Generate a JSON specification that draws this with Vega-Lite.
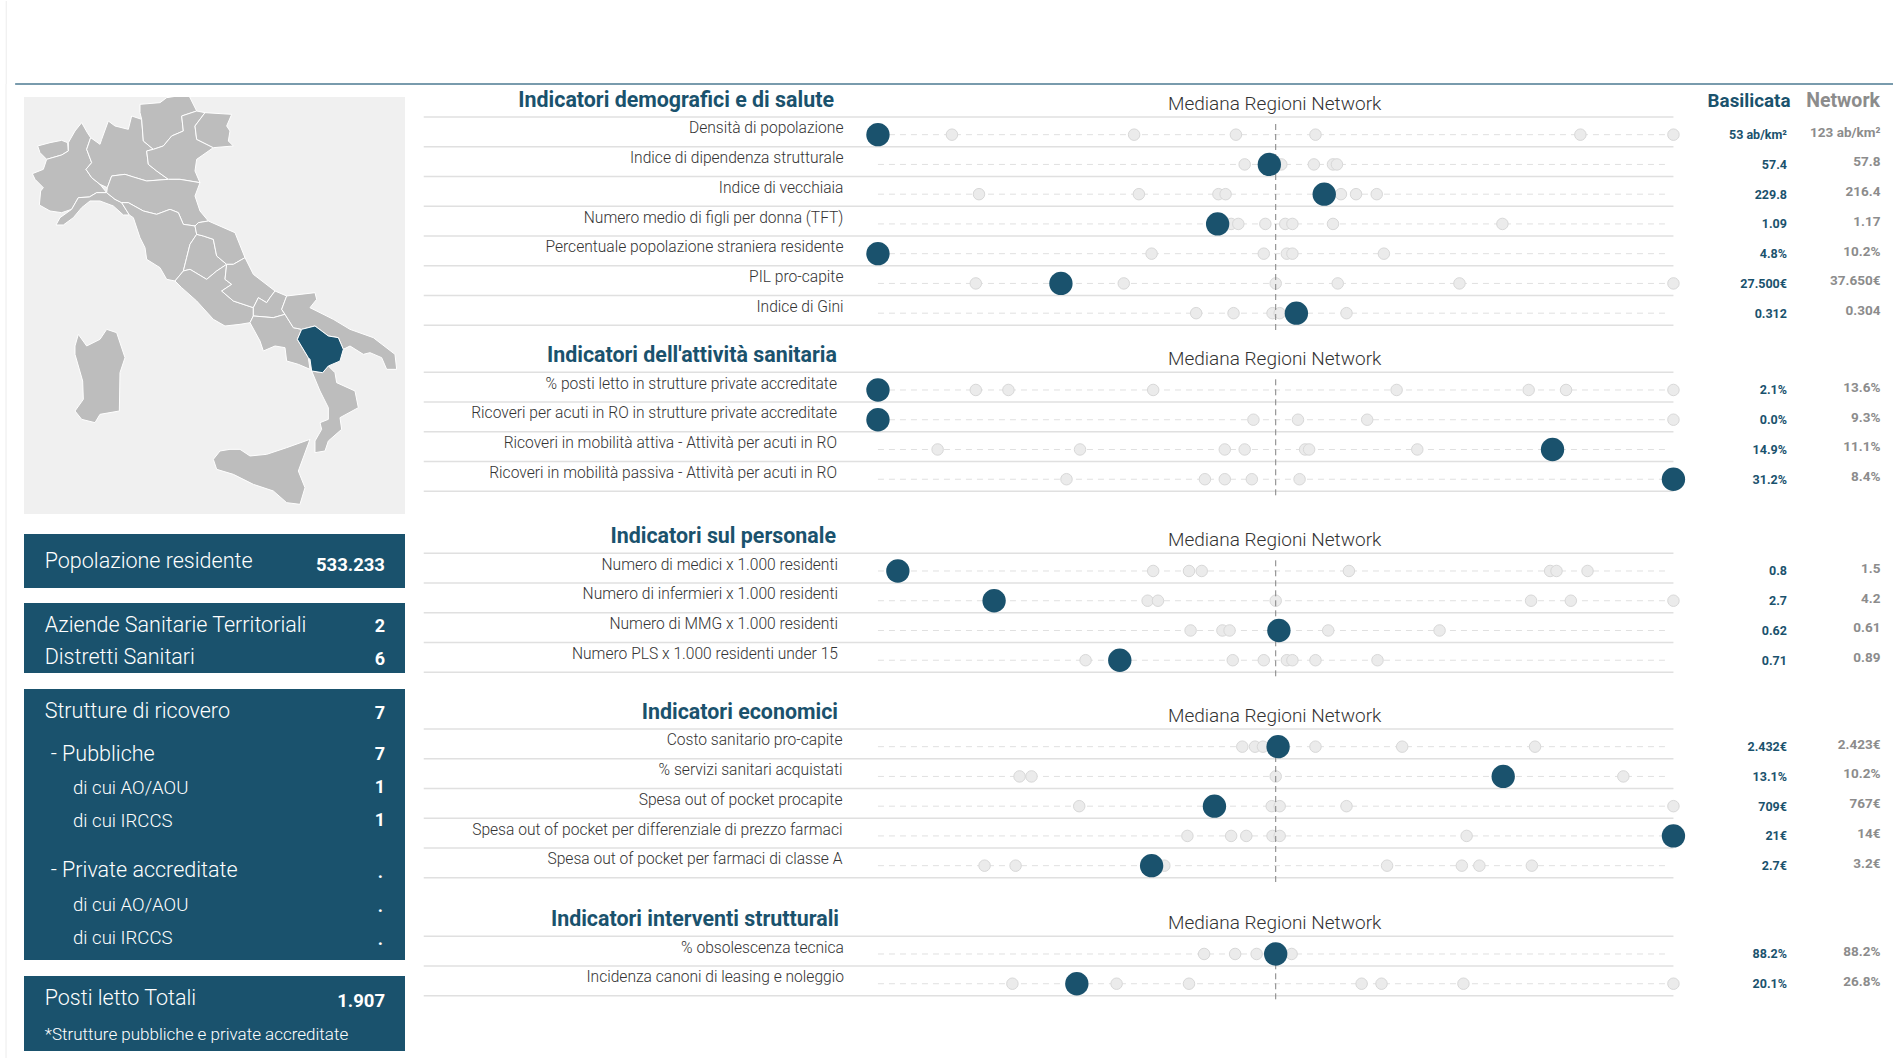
{"$schema":"https://vega.github.io/schema/vega-lite/v6.json","padding":0,"background":"#ffffff","spacing":0,"bounds":"flush",
"config":{"font":"Roboto","axis":{"disable":true},"legend":{"disable":true},"view":{"stroke":null}},
"datasets":{
"righe":[
{"riga":"A0","tipo":"titolo","nome":"Indicatori demografici e di salute"},
{"riga":"A1","tipo":"voce","nome":"Densità di popolazione","bas":"53 ab/km²","net":"123 ab/km²"},
{"riga":"A2","tipo":"voce","nome":"Indice di dipendenza strutturale","bas":"57.4","net":"57.8"},
{"riga":"A3","tipo":"voce","nome":"Indice di vecchiaia","bas":"229.8","net":"216.4"},
{"riga":"A4","tipo":"voce","nome":"Numero medio di figli per donna (TFT)","bas":"1.09","net":"1.17"},
{"riga":"A5","tipo":"voce","nome":"Percentuale popolazione straniera residente","bas":"4.8%","net":"10.2%"},
{"riga":"A6","tipo":"voce","nome":"PIL pro-capite","bas":"27.500€","net":"37.650€"},
{"riga":"A7","tipo":"voce","nome":"Indice di Gini","bas":"0.312","net":"0.304"},
{"riga":"B0","tipo":"titolo","nome":"Indicatori dell'attività sanitaria"},
{"riga":"B1","tipo":"voce","nome":"% posti letto in strutture private accreditate","bas":"2.1%","net":"13.6%"},
{"riga":"B2","tipo":"voce","nome":"Ricoveri per acuti in RO in strutture private accreditate","bas":"0.0%","net":"9.3%"},
{"riga":"B3","tipo":"voce","nome":"Ricoveri in mobilità attiva - Attività per acuti in RO","bas":"14.9%","net":"11.1%"},
{"riga":"B4","tipo":"voce","nome":"Ricoveri in mobilità passiva - Attività per acuti in RO","bas":"31.2%","net":"8.4%"},
{"riga":"C0","tipo":"titolo","nome":"Indicatori sul personale"},
{"riga":"C1","tipo":"voce","nome":"Numero di medici x 1.000 residenti","bas":"0.8","net":"1.5"},
{"riga":"C2","tipo":"voce","nome":"Numero di infermieri x 1.000 residenti","bas":"2.7","net":"4.2"},
{"riga":"C3","tipo":"voce","nome":"Numero di MMG x 1.000 residenti","bas":"0.62","net":"0.61"},
{"riga":"C4","tipo":"voce","nome":"Numero PLS x 1.000 residenti under 15","bas":"0.71","net":"0.89"},
{"riga":"D0","tipo":"titolo","nome":"Indicatori economici"},
{"riga":"D1","tipo":"voce","nome":"Costo sanitario pro-capite","bas":"2.432€","net":"2.423€"},
{"riga":"D2","tipo":"voce","nome":"% servizi sanitari acquistati","bas":"13.1%","net":"10.2%"},
{"riga":"D3","tipo":"voce","nome":"Spesa out of pocket procapite","bas":"709€","net":"767€"},
{"riga":"D4","tipo":"voce","nome":"Spesa out of pocket per differenziale di prezzo farmaci","bas":"21€","net":"14€"},
{"riga":"D5","tipo":"voce","nome":"Spesa out of pocket per farmaci di classe A","bas":"2.7€","net":"3.2€"},
{"riga":"E0","tipo":"titolo","nome":"Indicatori interventi strutturali"},
{"riga":"E1","tipo":"voce","nome":"% obsolescenza tecnica","bas":"88.2%","net":"88.2%"},
{"riga":"E2","tipo":"voce","nome":"Incidenza canoni di leasing e noleggio","bas":"20.1%","net":"26.8%"}
],
"altre":[
{"riga":"A1","valore":9.3},{"riga":"A1","valore":32.2},{"riga":"A1","valore":45},{"riga":"A1","valore":55},{"riga":"A1","valore":88.3},{"riga":"A1","valore":100},
{"riga":"A2","valore":46.1},{"riga":"A2","valore":50.7},{"riga":"A2","valore":54.8},{"riga":"A2","valore":57.2},{"riga":"A2","valore":57.7},
{"riga":"A3","valore":12.7},{"riga":"A3","valore":32.8},{"riga":"A3","valore":42.8},{"riga":"A3","valore":43.7},{"riga":"A3","valore":58.2},{"riga":"A3","valore":60.1},{"riga":"A3","valore":62.7},
{"riga":"A4","valore":44.4},{"riga":"A4","valore":45.3},{"riga":"A4","valore":48.7},{"riga":"A4","valore":51.2},{"riga":"A4","valore":52.1},{"riga":"A4","valore":57.2},{"riga":"A4","valore":78.5},
{"riga":"A5","valore":34.4},{"riga":"A5","valore":48.5},{"riga":"A5","valore":51.4},{"riga":"A5","valore":52.1},{"riga":"A5","valore":63.6},
{"riga":"A6","valore":12.3},{"riga":"A6","valore":30.9},{"riga":"A6","valore":50},{"riga":"A6","valore":57.8},{"riga":"A6","valore":73.1},{"riga":"A6","valore":100},
{"riga":"A7","valore":40},{"riga":"A7","valore":44.7},{"riga":"A7","valore":49.6},{"riga":"A7","valore":50.5},{"riga":"A7","valore":58.9},
{"riga":"B1","valore":12.3},{"riga":"B1","valore":16.4},{"riga":"B1","valore":34.6},{"riga":"B1","valore":65.2},{"riga":"B1","valore":81.8},{"riga":"B1","valore":86.5},{"riga":"B1","valore":100},
{"riga":"B2","valore":47.2},{"riga":"B2","valore":52.8},{"riga":"B2","valore":61.5},{"riga":"B2","valore":100},
{"riga":"B3","valore":7.5},{"riga":"B3","valore":25.4},{"riga":"B3","valore":43.6},{"riga":"B3","valore":46.1},{"riga":"B3","valore":53.7},{"riga":"B3","valore":54.2},{"riga":"B3","valore":67.8},
{"riga":"B4","valore":23.7},{"riga":"B4","valore":41.1},{"riga":"B4","valore":43.6},{"riga":"B4","valore":47},{"riga":"B4","valore":53},
{"riga":"C1","valore":34.6},{"riga":"C1","valore":39.1},{"riga":"C1","valore":40.7},{"riga":"C1","valore":59.2},{"riga":"C1","valore":84.5},{"riga":"C1","valore":85.3},{"riga":"C1","valore":89.2},
{"riga":"C2","valore":33.9},{"riga":"C2","valore":35.2},{"riga":"C2","valore":50},{"riga":"C2","valore":82.1},{"riga":"C2","valore":87.1},{"riga":"C2","valore":100},
{"riga":"C3","valore":39.3},{"riga":"C3","valore":43.3},{"riga":"C3","valore":44.2},{"riga":"C3","valore":56.6},{"riga":"C3","valore":70.6},
{"riga":"C4","valore":26.1},{"riga":"C4","valore":44.6},{"riga":"C4","valore":48.5},{"riga":"C4","valore":51.4},{"riga":"C4","valore":52.1},{"riga":"C4","valore":55},{"riga":"C4","valore":62.8},
{"riga":"D1","valore":45.8},{"riga":"D1","valore":47.4},{"riga":"D1","valore":48.4},{"riga":"D1","valore":55},{"riga":"D1","valore":65.9},{"riga":"D1","valore":82.6},
{"riga":"D2","valore":17.8},{"riga":"D2","valore":19.3},{"riga":"D2","valore":50},{"riga":"D2","valore":93.7},
{"riga":"D3","valore":25.3},{"riga":"D3","valore":49.5},{"riga":"D3","valore":50.5},{"riga":"D3","valore":58.9},{"riga":"D3","valore":100},
{"riga":"D4","valore":38.9},{"riga":"D4","valore":44.4},{"riga":"D4","valore":46.3},{"riga":"D4","valore":49.6},{"riga":"D4","valore":50.5},{"riga":"D4","valore":74},
{"riga":"D5","valore":13.4},{"riga":"D5","valore":17.3},{"riga":"D5","valore":36},{"riga":"D5","valore":64},{"riga":"D5","valore":73.4},{"riga":"D5","valore":75.6},{"riga":"D5","valore":82.2},
{"riga":"E1","valore":41},{"riga":"E1","valore":44.9},{"riga":"E1","valore":47.6},{"riga":"E1","valore":52},
{"riga":"E2","valore":16.9},{"riga":"E2","valore":30},{"riga":"E2","valore":39.1},{"riga":"E2","valore":60.8},{"riga":"E2","valore":63.3},{"riga":"E2","valore":73.6},{"riga":"E2","valore":100}
],
"basilicata":[
{"riga":"A1","valore":0},{"riga":"A2","valore":49.2},{"riga":"A3","valore":56.1},{"riga":"A4","valore":42.7},{"riga":"A5","valore":0},{"riga":"A6","valore":23},{"riga":"A7","valore":52.6},
{"riga":"B1","valore":0},{"riga":"B2","valore":0},{"riga":"B3","valore":84.8},{"riga":"B4","valore":100},
{"riga":"C1","valore":2.5},{"riga":"C2","valore":14.6},{"riga":"C3","valore":50.4},{"riga":"C4","valore":30.4},
{"riga":"D1","valore":50.3},{"riga":"D2","valore":78.6},{"riga":"D3","valore":42.3},{"riga":"D4","valore":100},{"riga":"D5","valore":34.4},
{"riga":"E1","valore":50},{"riga":"E2","valore":25}
],
"kpi":[
{"blocco":"P1","voce":"Popolazione residente","valore":"533.233","livello":0},
{"blocco":"P2","voce":"Aziende Sanitarie Territoriali","valore":"2","livello":0},
{"blocco":"P2","voce":"Distretti Sanitari","valore":"6","livello":0},
{"blocco":"P3a","voce":"Strutture di ricovero","valore":"7","livello":0},
{"blocco":"P3b","voce":"- Pubbliche","valore":"7","livello":1},
{"blocco":"P3b","voce":"di cui AO/AOU","valore":"1","livello":2},
{"blocco":"P3b","voce":"di cui IRCCS","valore":"1","livello":2},
{"blocco":"P3c","voce":"- Private accreditate","valore":".","livello":1},
{"blocco":"P3c","voce":"di cui AO/AOU","valore":".","livello":2},
{"blocco":"P3c","voce":"di cui IRCCS","valore":".","livello":2},
{"blocco":"P4","voce":"Posti letto Totali","valore":"1.907","livello":0},
{"blocco":"P4","voce":"*Strutture pubbliche e private accreditate","valore":"","livello":3}
]},
"vconcat":[
{"width":1893,"height":83,"data":{"values":[{"elemento":"filetto"}]},"layer":[
{"mark":{"type":"rule","color":"#4d7a92","strokeWidth":1.5},"encoding":{"x":{"datum":0.008,"type":"quantitative","scale":{"domain":[0,1],"nice":false}},"x2":{"datum":1},"y":{"datum":0,"type":"quantitative","scale":{"domain":[0,1]}}}},
{"mark":{"type":"rule","color":"#ececec","strokeWidth":1},"encoding":{"x":{"datum":0.0033,"type":"quantitative","scale":{"domain":[0,1],"nice":false}}}}
]},
{"spacing":0,"bounds":"full","hconcat":[
{"width":24,"height":975,"data":{"values":[{"elemento":"margine"}]},"mark":{"type":"rule","color":"#ececec","strokeWidth":1},"encoding":{"x":{"datum":0.25,"type":"quantitative","scale":{"domain":[0,1],"nice":false}}}},
{"spacing":0,"bounds":"flush","vconcat":[
{"width":381,"height":13,"data":{"values":[]},"mark":"text","encoding":{}},
{"width":381,"height":417,"view":{"fill":"#f0f0f0"},
"data":{"values":{"type":"FeatureCollection","features":[
{"type":"Feature","properties":{"nome":"Valle d'Aosta","stato":"altra"},"geometry":{"type":"Polygon","coordinates":[[[113,225],[150,215],[185,208],[203,215],[205,240],[185,252],[140,265],[120,245],[113,225]]]}},
{"type":"Feature","properties":{"nome":"Piemonte","stato":"altra"},"geometry":{"type":"Polygon","coordinates":[[[97,308],[130,295],[140,265],[185,252],[205,240],[205,215],[225,180],[245,155],[262,185],[272,200],[260,235],[275,275],[258,295],[275,320],[300,340],[320,365],[290,365],[268,378],[235,380],[215,415],[185,425],[150,420],[118,402],[122,360],[130,350],[105,325],[97,308]]]}},
{"type":"Feature","properties":{"nome":"Liguria","stato":"altra"},"geometry":{"type":"Polygon","coordinates":[[[168,462],[180,440],[215,415],[235,380],[268,378],[290,365],[320,365],[345,385],[365,395],[388,432],[370,432],[340,405],[300,390],[270,390],[245,410],[220,440],[190,462],[168,462]]]}},
{"type":"Feature","properties":{"nome":"Lombardia","stato":"altra"},"geometry":{"type":"Polygon","coordinates":[[[272,200],[300,220],[305,205],[325,150],[345,165],[385,175],[395,135],[425,145],[430,210],[460,235],[440,240],[445,280],[470,300],[505,325],[440,330],[400,318],[375,310],[335,315],[322,350],[300,340],[275,320],[258,295],[275,275],[260,235],[272,200]]]}},
{"type":"Feature","properties":{"nome":"Trentino-Alto Adige","stato":"altra"},"geometry":{"type":"Polygon","coordinates":[[[420,100],[480,95],[500,80],[565,70],[590,120],[545,135],[550,180],[515,195],[490,225],[460,235],[430,210],[425,145],[420,125],[420,100]]]}},
{"type":"Feature","properties":{"nome":"Veneto","stato":"altra"},"geometry":{"type":"Polygon","coordinates":[[[590,120],[615,125],[585,165],[590,205],[640,230],[590,265],[585,300],[600,335],[540,325],[505,325],[470,300],[445,280],[440,240],[460,235],[490,225],[515,195],[550,180],[545,135],[590,120]]]}},
{"type":"Feature","properties":{"nome":"Friuli-Venezia Giulia","stato":"altra"},"geometry":{"type":"Polygon","coordinates":[[[615,125],[695,130],[680,165],[690,180],[685,210],[700,225],[640,230],[590,205],[585,165],[615,125]]]}},
{"type":"Feature","properties":{"nome":"Emilia-Romagna","stato":"altra"},"geometry":{"type":"Polygon","coordinates":[[[322,350],[335,315],[375,310],[400,318],[440,330],[505,325],[540,325],[600,335],[585,375],[600,420],[625,450],[595,455],[585,465],[550,460],[535,425],[510,415],[470,430],[430,420],[385,395],[365,395],[345,385],[320,365],[322,350]]]}},
{"type":"Feature","properties":{"nome":"Toscana","stato":"altra"},"geometry":{"type":"Polygon","coordinates":[[[365,395],[385,395],[430,420],[470,430],[510,415],[535,425],[550,460],[585,465],[590,490],[570,520],[560,560],[550,600],[525,630],[500,625],[480,590],[440,565],[435,530],[420,500],[400,440],[388,432],[365,395]]]}},
{"type":"Feature","properties":{"nome":"Umbria","stato":"altra"},"geometry":{"type":"Polygon","coordinates":[[[590,490],[610,495],[640,505],[650,555],[680,580],[650,600],[620,625],[570,595],[550,600],[560,560],[570,520],[590,490]]]}},
{"type":"Feature","properties":{"nome":"Marche","stato":"altra"},"geometry":{"type":"Polygon","coordinates":[[[595,455],[625,450],[705,485],[735,560],[700,580],[680,580],[650,555],[640,505],[610,495],[590,490],[585,465],[595,455]]]}},
{"type":"Feature","properties":{"nome":"Lazio","stato":"altra"},"geometry":{"type":"Polygon","coordinates":[[[525,630],[550,600],[570,595],[620,625],[650,600],[680,580],[675,625],[695,640],[665,660],[700,690],[760,710],[760,735],[750,755],[720,760],[675,765],[640,745],[590,690],[545,650],[525,630]]]}},
{"type":"Feature","properties":{"nome":"Abruzzo","stato":"altra"},"geometry":{"type":"Polygon","coordinates":[[[680,580],[700,580],[735,560],[760,610],[825,660],[810,680],[800,695],[775,680],[760,710],[700,690],[665,660],[695,640],[675,625],[680,580]]]}},
{"type":"Feature","properties":{"nome":"Molise","stato":"altra"},"geometry":{"type":"Polygon","coordinates":[[[825,660],[860,675],[845,715],[855,730],[820,740],[760,735],[760,710],[775,680],[800,695],[810,680],[825,660]]]}},
{"type":"Feature","properties":{"nome":"Campania","stato":"altra"},"geometry":{"type":"Polygon","coordinates":[[[760,735],[820,740],[855,730],[880,770],[905,775],[892,805],[925,860],[930,895],[895,880],[860,870],[855,830],[825,825],[790,840],[780,810],[750,755],[760,735]]]}},
{"type":"Feature","properties":{"nome":"Puglia","stato":"altra"},"geometry":{"type":"Polygon","coordinates":[[[860,675],[945,665],[950,685],[930,710],[1000,745],[1050,775],[1120,800],[1185,850],[1190,895],[1160,895],[1145,860],[1110,845],[1090,850],[1050,825],[1030,835],[1015,800],[985,795],[945,765],[905,775],[880,770],[855,730],[845,715],[860,675]]]}},
{"type":"Feature","properties":{"nome":"Calabria","stato":"altra"},"geometry":{"type":"Polygon","coordinates":[[[935,900],[968,905],[985,885],[1005,905],[1010,935],[1065,960],[1075,1010],[1020,1040],[1025,1075],[985,1110],[975,1140],[945,1145],[945,1110],[965,1075],[960,1055],[985,1045],[985,1010],[960,960],[935,900]]]}},
{"type":"Feature","properties":{"nome":"Sicilia","stato":"altra"},"geometry":{"type":"Polygon","coordinates":[[[640,1165],[660,1140],[690,1135],[720,1135],[750,1155],[800,1150],[860,1130],[930,1105],[895,1200],[915,1250],[900,1300],[860,1295],[820,1260],[760,1240],[700,1210],[650,1195],[640,1165]]]}},
{"type":"Feature","properties":{"nome":"Sardegna","stato":"altra"},"geometry":{"type":"Polygon","coordinates":[[[225,825],[235,790],[260,825],[300,805],[320,775],[350,785],[375,860],[360,905],[358,1020],[300,1030],[285,1055],[245,1045],[225,1020],[250,985],[248,930],[225,850],[225,825]]]}},
{"type":"Feature","properties":{"nome":"Basilicata","stato":"selezionata"},"geometry":{"type":"Polygon","coordinates":[[[905,775],[945,765],[985,795],[1015,800],[1030,835],[1020,870],[985,885],[968,905],[935,900],[930,865],[925,860],[892,805],[905,775]]]}}
]},"format":{"type":"json","property":"features"}},
"mark":{"type":"geoshape","stroke":"#ffffff","strokeWidth":1},
"projection":{"type":"identity","scale":0.33333,"translate":[-24,-26]},
"encoding":{"color":{"field":"properties.stato","type":"nominal","scale":{"domain":["altra","selezionata"],"range":["#bdbdbd","#1a526d"]}}}},
{"width":381,"height":20,"data":{"values":[]},"mark":"text","encoding":{}},
{"width":381,"height":54,"view":{"fill":"#1a526d"},"data":{"name":"kpi"},"transform":[{"filter":"datum.blocco==='P1'"}],"layer":[
{"mark":{"type":"text","align":"left","dx":20.7,"dy":1,"fontSize":21.5,"fontWeight":300,"color":"#ffffff"},"encoding":{"x":{"datum":0,"type":"quantitative","scale":{"domain":[0,1],"nice":false}},"y":{"field":"voce","type":"nominal","scale":{"domain":["Popolazione residente"],"range":[0,54]}},"text":{"field":"voce"}}},
{"mark":{"type":"text","align":"right","dx":-20,"dy":3.5,"fontSize":18.5,"fontWeight":"bold","color":"#ffffff"},"encoding":{"x":{"datum":1,"type":"quantitative","scale":{"domain":[0,1],"nice":false}},"y":{"field":"voce","type":"nominal","scale":{"domain":["Popolazione residente"],"range":[0,54]}},"text":{"field":"valore"}}}
]},
{"width":381,"height":15,"data":{"values":[]},"mark":"text","encoding":{}},
{"width":381,"height":70,"view":{"fill":"#1a526d"},"data":{"name":"kpi"},"transform":[{"filter":"datum.blocco==='P2'"}],"layer":[
{"mark":{"type":"text","align":"left","dx":20.7,"fontSize":21.5,"fontWeight":300,"color":"#ffffff"},"encoding":{"x":{"datum":0,"type":"quantitative","scale":{"domain":[0,1],"nice":false}},"y":{"field":"voce","type":"nominal","scale":{"domain":["Aziende Sanitarie Territoriali","Distretti Sanitari"],"range":[6.4,71.6]}},"text":{"field":"voce"}}},
{"mark":{"type":"text","align":"right","dx":-20,"dy":1.5,"fontSize":18,"fontWeight":"bold","color":"#ffffff"},"encoding":{"x":{"datum":1,"type":"quantitative","scale":{"domain":[0,1],"nice":false}},"y":{"field":"voce","type":"nominal","scale":{"domain":["Aziende Sanitarie Territoriali","Distretti Sanitari"],"range":[6.4,71.6]}},"text":{"field":"valore"}}}
]},
{"width":381,"height":16,"data":{"values":[]},"mark":"text","encoding":{}},
{"width":381,"height":46,"view":{"fill":"#1a526d"},"data":{"name":"kpi"},"transform":[{"filter":"datum.blocco==='P3a'"}],"layer":[
{"mark":{"type":"text","align":"left","dx":20.7,"fontSize":21.5,"fontWeight":300,"color":"#ffffff"},"encoding":{"x":{"datum":0,"type":"quantitative","scale":{"domain":[0,1],"nice":false}},"y":{"field":"voce","type":"nominal","scale":{"domain":["Strutture di ricovero"],"range":[0,46]}},"text":{"field":"voce"}}},
{"mark":{"type":"text","align":"right","dx":-20,"dy":1.5,"fontSize":18,"fontWeight":"bold","color":"#ffffff"},"encoding":{"x":{"datum":1,"type":"quantitative","scale":{"domain":[0,1],"nice":false}},"y":{"field":"voce","type":"nominal","scale":{"domain":["Strutture di ricovero"],"range":[0,46]}},"text":{"field":"valore"}}}
]},
{"width":381,"height":102,"view":{"fill":"#1a526d"},"data":{"name":"kpi"},"transform":[{"filter":"datum.blocco==='P3b'"}],"layer":[
{"transform":[{"filter":"datum.livello===1"}],"mark":{"type":"text","align":"left","dx":26.7,"fontSize":21.5,"fontWeight":300,"color":"#ffffff"},"encoding":{"x":{"datum":0,"type":"quantitative","scale":{"domain":[0,1],"nice":false}},"y":{"field":"voce","type":"nominal","scale":{"domain":["- Pubbliche","di cui AO/AOU","di cui IRCCS"],"range":[3,102]}},"text":{"field":"voce"}}},
{"transform":[{"filter":"datum.livello===2"}],"mark":{"type":"text","align":"left","dx":49,"fontSize":18.6,"fontWeight":300,"color":"#ffffff"},"encoding":{"x":{"datum":0,"type":"quantitative","scale":{"domain":[0,1],"nice":false}},"y":{"field":"voce","type":"nominal","scale":{"domain":["- Pubbliche","di cui AO/AOU","di cui IRCCS"],"range":[3,102]}},"text":{"field":"voce"}}},
{"mark":{"type":"text","align":"right","dx":-20,"fontSize":18,"fontWeight":"bold","color":"#ffffff"},"encoding":{"x":{"datum":1,"type":"quantitative","scale":{"domain":[0,1],"nice":false}},"y":{"field":"voce","type":"nominal","scale":{"domain":["- Pubbliche","di cui AO/AOU","di cui IRCCS"],"range":[3,102]}},"text":{"field":"valore"}}}
]},
{"width":381,"height":123,"view":{"fill":"#1a526d"},"data":{"name":"kpi"},"transform":[{"filter":"datum.blocco==='P3c'"}],"layer":[
{"transform":[{"filter":"datum.livello===1"}],"mark":{"type":"text","align":"left","dx":26.7,"fontSize":21.5,"fontWeight":300,"color":"#ffffff"},"encoding":{"x":{"datum":0,"type":"quantitative","scale":{"domain":[0,1],"nice":false}},"y":{"field":"voce","type":"nominal","scale":{"domain":["- Private accreditate","di cui AO/AOU","di cui IRCCS"],"range":[17.25,117.75]}},"text":{"field":"voce"}}},
{"transform":[{"filter":"datum.livello===2"}],"mark":{"type":"text","align":"left","dx":49,"fontSize":18.6,"fontWeight":300,"color":"#ffffff"},"encoding":{"x":{"datum":0,"type":"quantitative","scale":{"domain":[0,1],"nice":false}},"y":{"field":"voce","type":"nominal","scale":{"domain":["- Private accreditate","di cui AO/AOU","di cui IRCCS"],"range":[17.25,117.75]}},"text":{"field":"voce"}}},
{"mark":{"type":"text","align":"right","dx":-22,"dy":2,"fontSize":18,"fontWeight":"bold","color":"#ffffff"},"encoding":{"x":{"datum":1,"type":"quantitative","scale":{"domain":[0,1],"nice":false}},"y":{"field":"voce","type":"nominal","scale":{"domain":["- Private accreditate","di cui AO/AOU","di cui IRCCS"],"range":[17.25,117.75]}},"text":{"field":"valore"}}}
]},
{"width":381,"height":16,"data":{"values":[]},"mark":"text","encoding":{}},
{"width":381,"height":75,"view":{"fill":"#1a526d"},"data":{"name":"kpi"},"transform":[{"filter":"datum.blocco==='P4'"}],"layer":[
{"transform":[{"filter":"datum.livello===0"}],"mark":{"type":"text","align":"left","dx":20.7,"fontSize":21.5,"fontWeight":300,"color":"#ffffff"},"encoding":{"x":{"datum":0,"type":"quantitative","scale":{"domain":[0,1],"nice":false}},"y":{"field":"voce","type":"nominal","scale":{"domain":["Posti letto Totali","*Strutture pubbliche e private accreditate"],"range":[5.45,76.85]}},"text":{"field":"voce"}}},
{"transform":[{"filter":"datum.livello===3"}],"mark":{"type":"text","align":"left","dx":20.7,"fontSize":17,"fontWeight":300,"color":"#ffffff"},"encoding":{"x":{"datum":0,"type":"quantitative","scale":{"domain":[0,1],"nice":false}},"y":{"field":"voce","type":"nominal","scale":{"domain":["Posti letto Totali","*Strutture pubbliche e private accreditate"],"range":[5.45,76.85]}},"text":{"field":"voce"}}},
{"transform":[{"filter":"datum.livello===0"}],"mark":{"type":"text","align":"right","dx":-20,"dy":1.5,"fontSize":18.5,"fontWeight":"bold","color":"#ffffff"},"encoding":{"x":{"datum":1,"type":"quantitative","scale":{"domain":[0,1],"nice":false}},"y":{"field":"voce","type":"nominal","scale":{"domain":["Posti letto Totali","*Strutture pubbliche e private accreditate"],"range":[5.45,76.85]}},"text":{"field":"valore"}}}
]}
]},
{"width":15,"height":975,"data":{"values":[]},"mark":"text","encoding":{}},
{"spacing":0,"bounds":"flush","vconcat":[
{"width":1473,"height":258,"data":{"name":"righe"},"transform":[{"filter":"test(/^A/,datum.riga)"}],"layer":[
{"mark":{"type":"rule","color":"#e0e0e0","strokeWidth":1.5},"encoding":{"x":{"datum":-57.1,"type":"quantitative","scale":{"domain":[-57.57,127.6],"nice":false,"zero":false}},"x2":{"datum":100},"y":{"field":"riga","type":"nominal","bandPosition":1,"scale":{"domain":["A0","A1","A2","A3","A4","A5","A6","A7"],"range":[3.25,241.25]}}}},
{"transform":[{"filter":"datum.tipo==='voce'"}],"mark":{"type":"rule","color":"#e0e0e0","strokeWidth":1,"strokeDash":[6,5]},"encoding":{"x":{"datum":0,"type":"quantitative","scale":{"domain":[-57.57,127.6],"nice":false,"zero":false}},"x2":{"datum":99},"y":{"field":"riga","type":"nominal","bandPosition":0.594,"scale":{"domain":["A0","A1","A2","A3","A4","A5","A6","A7"],"range":[3.25,241.25]}}}},
{"data":{"name":"altre"},"transform":[{"filter":"test(/^A/,datum.riga)"}],"mark":{"type":"circle","size":132,"opacity":1,"color":"#ebebeb","stroke":"#d8d8d8","strokeWidth":1},"encoding":{"x":{"field":"valore","type":"quantitative","scale":{"domain":[-57.57,127.6],"nice":false,"zero":false}},"y":{"field":"riga","type":"nominal","bandPosition":0.594,"scale":{"domain":["A0","A1","A2","A3","A4","A5","A6","A7"],"range":[3.25,241.25]}}}},
{"transform":[{"filter":"datum.tipo==='titolo'"}],"mark":{"type":"rule","color":"#808080","strokeWidth":1,"strokeDash":[6,4],"yOffset":7,"y2Offset":22},"encoding":{"x":{"datum":50,"type":"quantitative","scale":{"domain":[-57.57,127.6],"nice":false,"zero":false}},"y":{"datum":"A0","type":"nominal","bandPosition":1,"scale":{"domain":["A0","A1","A2","A3","A4","A5","A6","A7"],"range":[3.25,241.25]}},"y2":{"datum":"A7"}}},
{"data":{"name":"basilicata"},"transform":[{"filter":"test(/^A/,datum.riga)"}],"mark":{"type":"circle","size":545,"opacity":1,"color":"#1a526d"},"encoding":{"x":{"field":"valore","type":"quantitative","scale":{"domain":[-57.57,127.6],"nice":false,"zero":false}},"y":{"field":"riga","type":"nominal","bandPosition":0.594,"scale":{"domain":["A0","A1","A2","A3","A4","A5","A6","A7"],"range":[3.25,241.25]}}}},
{"transform":[{"filter":"datum.tipo==='titolo'"}],"mark":{"type":"text","align":"right","dx":-44,"dy":-1,"fontSize":21.4,"fontWeight":"bold","color":"#1a526d"},"encoding":{"x":{"datum":0,"type":"quantitative","scale":{"domain":[-57.57,127.6],"nice":false,"zero":false}},"y":{"field":"riga","type":"nominal","scale":{"domain":["A0","A1","A2","A3","A4","A5","A6","A7"],"range":[3.25,241.25]}},"text":{"field":"nome"}}},
{"transform":[{"filter":"datum.tipo==='titolo'"}],"mark":{"type":"text","align":"center","dx":-1,"dy":1.5,"fontSize":19,"fontWeight":300,"color":"#333333"},"encoding":{"x":{"datum":50,"type":"quantitative","scale":{"domain":[-57.57,127.6],"nice":false,"zero":false}},"y":{"field":"riga","type":"nominal","scale":{"domain":["A0","A1","A2","A3","A4","A5","A6","A7"],"range":[3.25,241.25]}},"text":{"value":"Mediana Regioni Network"}}},
{"transform":[{"filter":"datum.tipo==='titolo'"}],"mark":{"type":"text","align":"right","dx":117,"dy":-1,"fontSize":18.8,"fontWeight":"bold","color":"#1a526d"},"encoding":{"x":{"datum":100,"type":"quantitative","scale":{"domain":[-57.57,127.6],"nice":false,"zero":false}},"y":{"field":"riga","type":"nominal","scale":{"domain":["A0","A1","A2","A3","A4","A5","A6","A7"],"range":[3.25,241.25]}},"text":{"value":"Basilicata"}}},
{"transform":[{"filter":"datum.tipo==='titolo'"}],"mark":{"type":"text","align":"right","dx":206.5,"dy":-1,"fontSize":19.5,"fontWeight":"bold","color":"#8c8c8c"},"encoding":{"x":{"datum":100,"type":"quantitative","scale":{"domain":[-57.57,127.6],"nice":false,"zero":false}},"y":{"field":"riga","type":"nominal","scale":{"domain":["A0","A1","A2","A3","A4","A5","A6","A7"],"range":[3.25,241.25]}},"text":{"value":"Network"}}},
{"transform":[{"filter":"datum.tipo==='voce'"}],"mark":{"type":"text","align":"right","dx":-34.5,"dy":-3.5,"fontSize":15.6,"fontWeight":300,"color":"#333333"},"encoding":{"x":{"datum":0,"type":"quantitative","scale":{"domain":[-57.57,127.6],"nice":false,"zero":false}},"y":{"field":"riga","type":"nominal","scale":{"domain":["A0","A1","A2","A3","A4","A5","A6","A7"],"range":[3.25,241.25]}},"text":{"field":"nome"}}},
{"transform":[{"filter":"datum.tipo==='voce'"}],"mark":{"type":"text","align":"right","dx":113.5,"dy":3.2,"fontSize":12.5,"fontWeight":"bold","color":"#1a526d"},"encoding":{"x":{"datum":100,"type":"quantitative","scale":{"domain":[-57.57,127.6],"nice":false,"zero":false}},"y":{"field":"riga","type":"nominal","scale":{"domain":["A0","A1","A2","A3","A4","A5","A6","A7"],"range":[3.25,241.25]}},"text":{"field":"bas"}}},
{"transform":[{"filter":"datum.tipo==='voce'"}],"mark":{"type":"text","align":"right","dx":207,"dy":0.8,"fontSize":13.5,"fontWeight":"bold","color":"#8c8c8c"},"encoding":{"x":{"datum":100,"type":"quantitative","scale":{"domain":[-57.57,127.6],"nice":false,"zero":false}},"y":{"field":"riga","type":"nominal","scale":{"domain":["A0","A1","A2","A3","A4","A5","A6","A7"],"range":[3.25,241.25]}},"text":{"field":"net"}}}
]},
{"width":1473,"height":181,"data":{"name":"righe"},"transform":[{"filter":"test(/^B/,datum.riga)"}],"layer":[
{"mark":{"type":"rule","color":"#e0e0e0","strokeWidth":1.5},"encoding":{"x":{"datum":-57.1,"type":"quantitative","scale":{"domain":[-57.57,127.6],"nice":false,"zero":false}},"x2":{"datum":100},"y":{"field":"riga","type":"nominal","bandPosition":1,"scale":{"domain":["B0","B1","B2","B3","B4"],"range":[0.55,149.3]}}}},
{"transform":[{"filter":"datum.tipo==='voce'"}],"mark":{"type":"rule","color":"#e0e0e0","strokeWidth":1,"strokeDash":[6,5]},"encoding":{"x":{"datum":0,"type":"quantitative","scale":{"domain":[-57.57,127.6],"nice":false,"zero":false}},"x2":{"datum":99},"y":{"field":"riga","type":"nominal","bandPosition":0.594,"scale":{"domain":["B0","B1","B2","B3","B4"],"range":[0.55,149.3]}}}},
{"data":{"name":"altre"},"transform":[{"filter":"test(/^B/,datum.riga)"}],"mark":{"type":"circle","size":132,"opacity":1,"color":"#ebebeb","stroke":"#d8d8d8","strokeWidth":1},"encoding":{"x":{"field":"valore","type":"quantitative","scale":{"domain":[-57.57,127.6],"nice":false,"zero":false}},"y":{"field":"riga","type":"nominal","bandPosition":0.594,"scale":{"domain":["B0","B1","B2","B3","B4"],"range":[0.55,149.3]}}}},
{"transform":[{"filter":"datum.tipo==='titolo'"}],"mark":{"type":"rule","color":"#808080","strokeWidth":1,"strokeDash":[6,4],"yOffset":7,"y2Offset":22},"encoding":{"x":{"datum":50,"type":"quantitative","scale":{"domain":[-57.57,127.6],"nice":false,"zero":false}},"y":{"datum":"B0","type":"nominal","bandPosition":1,"scale":{"domain":["B0","B1","B2","B3","B4"],"range":[0.55,149.3]}},"y2":{"datum":"B4"}}},
{"data":{"name":"basilicata"},"transform":[{"filter":"test(/^B/,datum.riga)"}],"mark":{"type":"circle","size":545,"opacity":1,"color":"#1a526d"},"encoding":{"x":{"field":"valore","type":"quantitative","scale":{"domain":[-57.57,127.6],"nice":false,"zero":false}},"y":{"field":"riga","type":"nominal","bandPosition":0.594,"scale":{"domain":["B0","B1","B2","B3","B4"],"range":[0.55,149.3]}}}},
{"transform":[{"filter":"datum.tipo==='titolo'"}],"mark":{"type":"text","align":"right","dx":-41,"dy":-1,"fontSize":21.4,"fontWeight":"bold","color":"#1a526d"},"encoding":{"x":{"datum":0,"type":"quantitative","scale":{"domain":[-57.57,127.6],"nice":false,"zero":false}},"y":{"field":"riga","type":"nominal","scale":{"domain":["B0","B1","B2","B3","B4"],"range":[0.55,149.3]}},"text":{"field":"nome"}}},
{"transform":[{"filter":"datum.tipo==='titolo'"}],"mark":{"type":"text","align":"center","dx":-1,"dy":1.5,"fontSize":19,"fontWeight":300,"color":"#333333"},"encoding":{"x":{"datum":50,"type":"quantitative","scale":{"domain":[-57.57,127.6],"nice":false,"zero":false}},"y":{"field":"riga","type":"nominal","scale":{"domain":["B0","B1","B2","B3","B4"],"range":[0.55,149.3]}},"text":{"value":"Mediana Regioni Network"}}},
{"transform":[{"filter":"datum.tipo==='voce'"}],"mark":{"type":"text","align":"right","dx":-41,"dy":-3.5,"fontSize":15.6,"fontWeight":300,"color":"#333333"},"encoding":{"x":{"datum":0,"type":"quantitative","scale":{"domain":[-57.57,127.6],"nice":false,"zero":false}},"y":{"field":"riga","type":"nominal","scale":{"domain":["B0","B1","B2","B3","B4"],"range":[0.55,149.3]}},"text":{"field":"nome"}}},
{"transform":[{"filter":"datum.tipo==='voce'"}],"mark":{"type":"text","align":"right","dx":113.5,"dy":3.2,"fontSize":12.5,"fontWeight":"bold","color":"#1a526d"},"encoding":{"x":{"datum":100,"type":"quantitative","scale":{"domain":[-57.57,127.6],"nice":false,"zero":false}},"y":{"field":"riga","type":"nominal","scale":{"domain":["B0","B1","B2","B3","B4"],"range":[0.55,149.3]}},"text":{"field":"bas"}}},
{"transform":[{"filter":"datum.tipo==='voce'"}],"mark":{"type":"text","align":"right","dx":207,"dy":0.8,"fontSize":13.5,"fontWeight":"bold","color":"#8c8c8c"},"encoding":{"x":{"datum":100,"type":"quantitative","scale":{"domain":[-57.57,127.6],"nice":false,"zero":false}},"y":{"field":"riga","type":"nominal","scale":{"domain":["B0","B1","B2","B3","B4"],"range":[0.55,149.3]}},"text":{"field":"net"}}}
]},
{"width":1473,"height":176,"data":{"name":"righe"},"transform":[{"filter":"test(/^C/,datum.riga)"}],"layer":[
{"mark":{"type":"rule","color":"#e0e0e0","strokeWidth":1.5},"encoding":{"x":{"datum":-57.1,"type":"quantitative","scale":{"domain":[-57.57,127.6],"nice":false,"zero":false}},"x2":{"datum":100},"y":{"field":"riga","type":"nominal","bandPosition":1,"scale":{"domain":["C0","C1","C2","C3","C4"],"range":[0.55,149.3]}}}},
{"transform":[{"filter":"datum.tipo==='voce'"}],"mark":{"type":"rule","color":"#e0e0e0","strokeWidth":1,"strokeDash":[6,5]},"encoding":{"x":{"datum":0,"type":"quantitative","scale":{"domain":[-57.57,127.6],"nice":false,"zero":false}},"x2":{"datum":99},"y":{"field":"riga","type":"nominal","bandPosition":0.594,"scale":{"domain":["C0","C1","C2","C3","C4"],"range":[0.55,149.3]}}}},
{"data":{"name":"altre"},"transform":[{"filter":"test(/^C/,datum.riga)"}],"mark":{"type":"circle","size":132,"opacity":1,"color":"#ebebeb","stroke":"#d8d8d8","strokeWidth":1},"encoding":{"x":{"field":"valore","type":"quantitative","scale":{"domain":[-57.57,127.6],"nice":false,"zero":false}},"y":{"field":"riga","type":"nominal","bandPosition":0.594,"scale":{"domain":["C0","C1","C2","C3","C4"],"range":[0.55,149.3]}}}},
{"transform":[{"filter":"datum.tipo==='titolo'"}],"mark":{"type":"rule","color":"#808080","strokeWidth":1,"strokeDash":[6,4],"yOffset":7,"y2Offset":22},"encoding":{"x":{"datum":50,"type":"quantitative","scale":{"domain":[-57.57,127.6],"nice":false,"zero":false}},"y":{"datum":"C0","type":"nominal","bandPosition":1,"scale":{"domain":["C0","C1","C2","C3","C4"],"range":[0.55,149.3]}},"y2":{"datum":"C4"}}},
{"data":{"name":"basilicata"},"transform":[{"filter":"test(/^C/,datum.riga)"}],"mark":{"type":"circle","size":545,"opacity":1,"color":"#1a526d"},"encoding":{"x":{"field":"valore","type":"quantitative","scale":{"domain":[-57.57,127.6],"nice":false,"zero":false}},"y":{"field":"riga","type":"nominal","bandPosition":0.594,"scale":{"domain":["C0","C1","C2","C3","C4"],"range":[0.55,149.3]}}}},
{"transform":[{"filter":"datum.tipo==='titolo'"}],"mark":{"type":"text","align":"right","dx":-42,"dy":-1,"fontSize":21.4,"fontWeight":"bold","color":"#1a526d"},"encoding":{"x":{"datum":0,"type":"quantitative","scale":{"domain":[-57.57,127.6],"nice":false,"zero":false}},"y":{"field":"riga","type":"nominal","scale":{"domain":["C0","C1","C2","C3","C4"],"range":[0.55,149.3]}},"text":{"field":"nome"}}},
{"transform":[{"filter":"datum.tipo==='titolo'"}],"mark":{"type":"text","align":"center","dx":-1,"dy":1.5,"fontSize":19,"fontWeight":300,"color":"#333333"},"encoding":{"x":{"datum":50,"type":"quantitative","scale":{"domain":[-57.57,127.6],"nice":false,"zero":false}},"y":{"field":"riga","type":"nominal","scale":{"domain":["C0","C1","C2","C3","C4"],"range":[0.55,149.3]}},"text":{"value":"Mediana Regioni Network"}}},
{"transform":[{"filter":"datum.tipo==='voce'"}],"mark":{"type":"text","align":"right","dx":-40,"dy":-3.5,"fontSize":15.6,"fontWeight":300,"color":"#333333"},"encoding":{"x":{"datum":0,"type":"quantitative","scale":{"domain":[-57.57,127.6],"nice":false,"zero":false}},"y":{"field":"riga","type":"nominal","scale":{"domain":["C0","C1","C2","C3","C4"],"range":[0.55,149.3]}},"text":{"field":"nome"}}},
{"transform":[{"filter":"datum.tipo==='voce'"}],"mark":{"type":"text","align":"right","dx":113.5,"dy":3.2,"fontSize":12.5,"fontWeight":"bold","color":"#1a526d"},"encoding":{"x":{"datum":100,"type":"quantitative","scale":{"domain":[-57.57,127.6],"nice":false,"zero":false}},"y":{"field":"riga","type":"nominal","scale":{"domain":["C0","C1","C2","C3","C4"],"range":[0.55,149.3]}},"text":{"field":"bas"}}},
{"transform":[{"filter":"datum.tipo==='voce'"}],"mark":{"type":"text","align":"right","dx":207,"dy":0.8,"fontSize":13.5,"fontWeight":"bold","color":"#8c8c8c"},"encoding":{"x":{"datum":100,"type":"quantitative","scale":{"domain":[-57.57,127.6],"nice":false,"zero":false}},"y":{"field":"riga","type":"nominal","scale":{"domain":["C0","C1","C2","C3","C4"],"range":[0.55,149.3]}},"text":{"field":"net"}}}
]},
{"width":1473,"height":207,"data":{"name":"righe"},"transform":[{"filter":"test(/^D/,datum.riga)"}],"layer":[
{"mark":{"type":"rule","color":"#e0e0e0","strokeWidth":1.5},"encoding":{"x":{"datum":-57.1,"type":"quantitative","scale":{"domain":[-57.57,127.6],"nice":false,"zero":false}},"x2":{"datum":100},"y":{"field":"riga","type":"nominal","bandPosition":1,"scale":{"domain":["D0","D1","D2","D3","D4","D5"],"range":[0.25,178.75]}}}},
{"transform":[{"filter":"datum.tipo==='voce'"}],"mark":{"type":"rule","color":"#e0e0e0","strokeWidth":1,"strokeDash":[6,5]},"encoding":{"x":{"datum":0,"type":"quantitative","scale":{"domain":[-57.57,127.6],"nice":false,"zero":false}},"x2":{"datum":99},"y":{"field":"riga","type":"nominal","bandPosition":0.594,"scale":{"domain":["D0","D1","D2","D3","D4","D5"],"range":[0.25,178.75]}}}},
{"data":{"name":"altre"},"transform":[{"filter":"test(/^D/,datum.riga)"}],"mark":{"type":"circle","size":132,"opacity":1,"color":"#ebebeb","stroke":"#d8d8d8","strokeWidth":1},"encoding":{"x":{"field":"valore","type":"quantitative","scale":{"domain":[-57.57,127.6],"nice":false,"zero":false}},"y":{"field":"riga","type":"nominal","bandPosition":0.594,"scale":{"domain":["D0","D1","D2","D3","D4","D5"],"range":[0.25,178.75]}}}},
{"transform":[{"filter":"datum.tipo==='titolo'"}],"mark":{"type":"rule","color":"#808080","strokeWidth":1,"strokeDash":[6,4],"yOffset":7,"y2Offset":22},"encoding":{"x":{"datum":50,"type":"quantitative","scale":{"domain":[-57.57,127.6],"nice":false,"zero":false}},"y":{"datum":"D0","type":"nominal","bandPosition":1,"scale":{"domain":["D0","D1","D2","D3","D4","D5"],"range":[0.25,178.75]}},"y2":{"datum":"D5"}}},
{"data":{"name":"basilicata"},"transform":[{"filter":"test(/^D/,datum.riga)"}],"mark":{"type":"circle","size":545,"opacity":1,"color":"#1a526d"},"encoding":{"x":{"field":"valore","type":"quantitative","scale":{"domain":[-57.57,127.6],"nice":false,"zero":false}},"y":{"field":"riga","type":"nominal","bandPosition":0.594,"scale":{"domain":["D0","D1","D2","D3","D4","D5"],"range":[0.25,178.75]}}}},
{"transform":[{"filter":"datum.tipo==='titolo'"}],"mark":{"type":"text","align":"right","dx":-40,"dy":-1,"fontSize":21.4,"fontWeight":"bold","color":"#1a526d"},"encoding":{"x":{"datum":0,"type":"quantitative","scale":{"domain":[-57.57,127.6],"nice":false,"zero":false}},"y":{"field":"riga","type":"nominal","scale":{"domain":["D0","D1","D2","D3","D4","D5"],"range":[0.25,178.75]}},"text":{"field":"nome"}}},
{"transform":[{"filter":"datum.tipo==='titolo'"}],"mark":{"type":"text","align":"center","dx":-1,"dy":1.5,"fontSize":19,"fontWeight":300,"color":"#333333"},"encoding":{"x":{"datum":50,"type":"quantitative","scale":{"domain":[-57.57,127.6],"nice":false,"zero":false}},"y":{"field":"riga","type":"nominal","scale":{"domain":["D0","D1","D2","D3","D4","D5"],"range":[0.25,178.75]}},"text":{"value":"Mediana Regioni Network"}}},
{"transform":[{"filter":"datum.tipo==='voce'"}],"mark":{"type":"text","align":"right","dx":-35.5,"dy":-3.5,"fontSize":15.6,"fontWeight":300,"color":"#333333"},"encoding":{"x":{"datum":0,"type":"quantitative","scale":{"domain":[-57.57,127.6],"nice":false,"zero":false}},"y":{"field":"riga","type":"nominal","scale":{"domain":["D0","D1","D2","D3","D4","D5"],"range":[0.25,178.75]}},"text":{"field":"nome"}}},
{"transform":[{"filter":"datum.tipo==='voce'"}],"mark":{"type":"text","align":"right","dx":113.5,"dy":3.2,"fontSize":12.5,"fontWeight":"bold","color":"#1a526d"},"encoding":{"x":{"datum":100,"type":"quantitative","scale":{"domain":[-57.57,127.6],"nice":false,"zero":false}},"y":{"field":"riga","type":"nominal","scale":{"domain":["D0","D1","D2","D3","D4","D5"],"range":[0.25,178.75]}},"text":{"field":"bas"}}},
{"transform":[{"filter":"datum.tipo==='voce'"}],"mark":{"type":"text","align":"right","dx":207,"dy":0.8,"fontSize":13.5,"fontWeight":"bold","color":"#8c8c8c"},"encoding":{"x":{"datum":100,"type":"quantitative","scale":{"domain":[-57.57,127.6],"nice":false,"zero":false}},"y":{"field":"riga","type":"nominal","scale":{"domain":["D0","D1","D2","D3","D4","D5"],"range":[0.25,178.75]}},"text":{"field":"net"}}}
]},
{"width":1473,"height":153,"data":{"name":"righe"},"transform":[{"filter":"test(/^E/,datum.riga)"}],"layer":[
{"mark":{"type":"rule","color":"#e0e0e0","strokeWidth":1.5},"encoding":{"x":{"datum":-57.1,"type":"quantitative","scale":{"domain":[-57.57,127.6],"nice":false,"zero":false}},"x2":{"datum":100},"y":{"field":"riga","type":"nominal","bandPosition":1,"scale":{"domain":["E0","E1","E2"],"range":[0.55,89.8]}}}},
{"transform":[{"filter":"datum.tipo==='voce'"}],"mark":{"type":"rule","color":"#e0e0e0","strokeWidth":1,"strokeDash":[6,5]},"encoding":{"x":{"datum":0,"type":"quantitative","scale":{"domain":[-57.57,127.6],"nice":false,"zero":false}},"x2":{"datum":99},"y":{"field":"riga","type":"nominal","bandPosition":0.594,"scale":{"domain":["E0","E1","E2"],"range":[0.55,89.8]}}}},
{"data":{"name":"altre"},"transform":[{"filter":"test(/^E/,datum.riga)"}],"mark":{"type":"circle","size":132,"opacity":1,"color":"#ebebeb","stroke":"#d8d8d8","strokeWidth":1},"encoding":{"x":{"field":"valore","type":"quantitative","scale":{"domain":[-57.57,127.6],"nice":false,"zero":false}},"y":{"field":"riga","type":"nominal","bandPosition":0.594,"scale":{"domain":["E0","E1","E2"],"range":[0.55,89.8]}}}},
{"transform":[{"filter":"datum.tipo==='titolo'"}],"mark":{"type":"rule","color":"#808080","strokeWidth":1,"strokeDash":[6,4],"yOffset":7,"y2Offset":22},"encoding":{"x":{"datum":50,"type":"quantitative","scale":{"domain":[-57.57,127.6],"nice":false,"zero":false}},"y":{"datum":"E0","type":"nominal","bandPosition":1,"scale":{"domain":["E0","E1","E2"],"range":[0.55,89.8]}},"y2":{"datum":"E2"}}},
{"data":{"name":"basilicata"},"transform":[{"filter":"test(/^E/,datum.riga)"}],"mark":{"type":"circle","size":545,"opacity":1,"color":"#1a526d"},"encoding":{"x":{"field":"valore","type":"quantitative","scale":{"domain":[-57.57,127.6],"nice":false,"zero":false}},"y":{"field":"riga","type":"nominal","bandPosition":0.594,"scale":{"domain":["E0","E1","E2"],"range":[0.55,89.8]}}}},
{"transform":[{"filter":"datum.tipo==='titolo'"}],"mark":{"type":"text","align":"right","dx":-39,"dy":-1,"fontSize":21.4,"fontWeight":"bold","color":"#1a526d"},"encoding":{"x":{"datum":0,"type":"quantitative","scale":{"domain":[-57.57,127.6],"nice":false,"zero":false}},"y":{"field":"riga","type":"nominal","scale":{"domain":["E0","E1","E2"],"range":[0.55,89.8]}},"text":{"field":"nome"}}},
{"transform":[{"filter":"datum.tipo==='titolo'"}],"mark":{"type":"text","align":"center","dx":-1,"dy":1.5,"fontSize":19,"fontWeight":300,"color":"#333333"},"encoding":{"x":{"datum":50,"type":"quantitative","scale":{"domain":[-57.57,127.6],"nice":false,"zero":false}},"y":{"field":"riga","type":"nominal","scale":{"domain":["E0","E1","E2"],"range":[0.55,89.8]}},"text":{"value":"Mediana Regioni Network"}}},
{"transform":[{"filter":"datum.tipo==='voce'"}],"mark":{"type":"text","align":"right","dx":-34,"dy":-3.5,"fontSize":15.6,"fontWeight":300,"color":"#333333"},"encoding":{"x":{"datum":0,"type":"quantitative","scale":{"domain":[-57.57,127.6],"nice":false,"zero":false}},"y":{"field":"riga","type":"nominal","scale":{"domain":["E0","E1","E2"],"range":[0.55,89.8]}},"text":{"field":"nome"}}},
{"transform":[{"filter":"datum.tipo==='voce'"}],"mark":{"type":"text","align":"right","dx":113.5,"dy":3.2,"fontSize":12.5,"fontWeight":"bold","color":"#1a526d"},"encoding":{"x":{"datum":100,"type":"quantitative","scale":{"domain":[-57.57,127.6],"nice":false,"zero":false}},"y":{"field":"riga","type":"nominal","scale":{"domain":["E0","E1","E2"],"range":[0.55,89.8]}},"text":{"field":"bas"}}},
{"transform":[{"filter":"datum.tipo==='voce'"}],"mark":{"type":"text","align":"right","dx":207,"dy":0.8,"fontSize":13.5,"fontWeight":"bold","color":"#8c8c8c"},"encoding":{"x":{"datum":100,"type":"quantitative","scale":{"domain":[-57.57,127.6],"nice":false,"zero":false}},"y":{"field":"riga","type":"nominal","scale":{"domain":["E0","E1","E2"],"range":[0.55,89.8]}},"text":{"field":"net"}}}
]}
]}
]}
]}
